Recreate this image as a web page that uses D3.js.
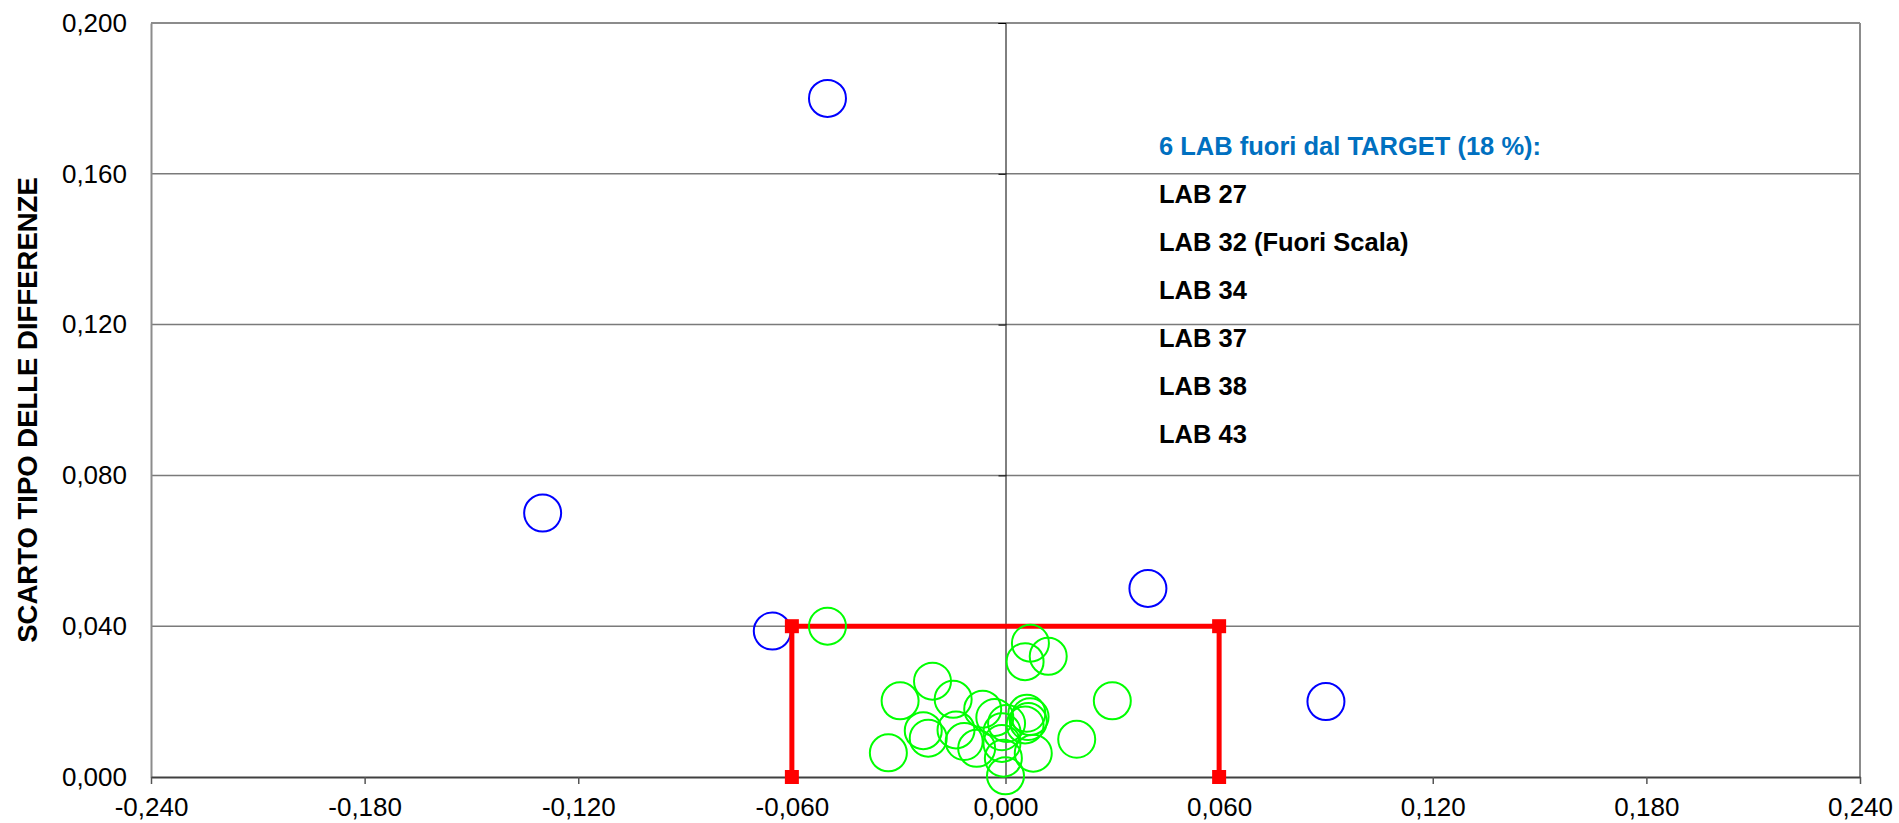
<!DOCTYPE html>
<html>
<head>
<meta charset="utf-8">
<script src="https://cdn.jsdelivr.net/npm/d3@7"></script>
<style>
    body { margin: 0; background: #fff; }
    text { font-family: "Liberation Sans", Arial, sans-serif; }
</style>
</head>
<body>
<div id="chart"></div>
<script>
var svgWidth = 1899;
var svgHeight = 823;
var margin = { top: 23, right: 39, bottom: 46, left: 151 };
var width = svgWidth - margin.left - margin.right;
var height = svgHeight - margin.top - margin.bottom;

// tick values
var xTicks = [-0.24, -0.18, -0.12, -0.06, 0, 0.06, 0.12, 0.18, 0.24];
var yTicks = [0, 0.04, 0.08, 0.12, 0.16, 0.2];

// labs outside the target (blue)
var outX = [-0.050, -0.130, -0.0655, 0.040, 0.090];
var outY = [0.180, 0.070, 0.0387, 0.050, 0.020];

// labs inside the target (green)
var inX = [-0.050, 0.007, 0.0055, 0.012, -0.0205, -0.0296, -0.0147, 0.030, -0.0064,
    -0.003, 0.0003, 0.006, 0.0069, 0.0064, 0.0055, -0.0231, -0.0217, -0.0139, -0.0116,
    -0.0081, -0.0329, 0.020, 0.0078, -0.001, -0.0006, 0.000, -0.001];
var inY = [0.040, 0.0355, 0.0306, 0.032, 0.0254, 0.0202, 0.0206, 0.0202, 0.018,
    0.0158, 0.0142, 0.0169, 0.016, 0.0147, 0.0138, 0.0123, 0.0103, 0.0125, 0.0094,
    0.0076, 0.0064, 0.010, 0.0063, 0.0089, 0.005, 0.0003, 0.012];

// target box
var targetX = [-0.06, -0.06, 0.06, 0.06];
var targetY = [0, 0.04, 0.04, 0];

var noteTitle = "6 LAB fuori dal TARGET (18 %):";
var noteLines = ["LAB 27", "LAB 32 (Fuori Scala)", "LAB 34", "LAB 37", "LAB 38", "LAB 43"];
var yTitle = "SCARTO TIPO DELLE DIFFERENZE";

var itLocale = d3.formatLocale({ decimal: ",", thousands: ".", grouping: [3], currency: ["", "€"], minus: "-" });
var fmt = itLocale.format(".3f");

var svg = d3.select("#chart")
    .append("svg")
    .attr("width", svgWidth)
    .attr("height", svgHeight);

var chartGroup = svg.append("g")
    .attr("transform", `translate(${margin.left}, ${margin.top})`);

var xScale = d3.scaleLinear().domain([-0.24, 0.24]).range([0, width]);
var yScale = d3.scaleLinear().domain([0, 0.2]).range([height, 0]);

// gridlines
chartGroup.selectAll(".grid")
    .data(yTicks.filter(d => d > 0 && d < 0.2))
    .enter()
    .append("line")
    .attr("x1", 0)
    .attr("x2", width)
    .attr("y1", d => yScale(d))
    .attr("y2", d => yScale(d))
    .attr("stroke", "#7a7a7a")
    .attr("stroke-width", 1.5);

// frame top / right
chartGroup.append("line")
    .attr("x1", 0).attr("x2", width)
    .attr("y1", yScale(0.2)).attr("y2", yScale(0.2))
    .attr("stroke", "#8c8c8c").attr("stroke-width", 2);
chartGroup.append("line")
    .attr("x1", width).attr("x2", width)
    .attr("y1", 0).attr("y2", height)
    .attr("stroke", "#8c8c8c").attr("stroke-width", 2);

// left axis (labels only)
var leftAxis = d3.axisLeft(yScale).tickValues(yTicks).tickSize(0).tickPadding(24).tickFormat(fmt);
var gLeft = chartGroup.append("g").call(leftAxis);
gLeft.select(".domain").attr("stroke", "#8c8c8c").attr("stroke-width", 2);
gLeft.selectAll("text").attr("font-size", "26px").attr("fill", "#000")
    .attr("font-family", "'Liberation Sans', Arial, sans-serif");

// vertical zero axis
var zeroAxis = d3.axisLeft(yScale).tickValues(yTicks).tickSize(7).tickFormat("");
var gZero = chartGroup.append("g")
    .attr("transform", `translate(${xScale(0)}, 0)`)
    .call(zeroAxis);
gZero.select(".domain").attr("stroke", "#000").attr("stroke-width", 1);
gZero.selectAll("line").attr("stroke", "#000").attr("stroke-width", 1);

// bottom axis
var bottomAxis = d3.axisBottom(xScale).tickValues(xTicks).tickSize(7).tickSizeOuter(0).tickPadding(14).tickFormat(fmt);
var gBottom = chartGroup.append("g")
    .attr("transform", `translate(0, ${height})`)
    .call(bottomAxis);
gBottom.select(".domain").attr("stroke", "#404040").attr("stroke-width", 2);
gBottom.selectAll(".tick line").attr("stroke", "#555").attr("stroke-width", 1.5);
gBottom.selectAll("text").attr("font-size", "26px").attr("fill", "#000")
    .attr("font-family", "'Liberation Sans', Arial, sans-serif");

// blue circles (outside target)
chartGroup.selectAll(".out")
    .data(outX.map((d, i) => [d, outY[i]]))
    .enter()
    .append("circle")
    .attr("cx", d => xScale(d[0]))
    .attr("cy", d => yScale(d[1]))
    .attr("r", 18.5)
    .attr("fill", "none")
    .attr("stroke", "#0000ff")
    .attr("stroke-width", 2);

// target box
var targetPts = targetX.map((d, i) => [d, targetY[i]]);
var line = d3.line().x(d => xScale(d[0])).y(d => yScale(d[1]));
chartGroup.append("path")
    .datum(targetPts)
    .attr("d", line)
    .attr("fill", "none")
    .attr("stroke", "#ff0000")
    .attr("stroke-width", 5);
chartGroup.selectAll(".tmark")
    .data(targetPts)
    .enter()
    .append("rect")
    .attr("x", d => xScale(d[0]) - 7)
    .attr("y", d => yScale(d[1]) - 7)
    .attr("width", 14)
    .attr("height", 14)
    .attr("fill", "#ff0000");

// green circles (inside target)
chartGroup.selectAll(".in")
    .data(inX.map((d, i) => [d, inY[i]]))
    .enter()
    .append("circle")
    .attr("cx", d => xScale(d[0]))
    .attr("cy", d => yScale(d[1]))
    .attr("r", 18.5)
    .attr("fill", "none")
    .attr("stroke", "#00ff00")
    .attr("stroke-width", 2);

// note
var note = svg.append("g").attr("transform", "translate(1159, 155)");
note.append("text")
    .attr("font-family", "'Open Sans', sans-serif")
    .attr("font-weight", "bold")
    .attr("font-size", "25.5px")
    .attr("fill", "#0070c0")
    .text(noteTitle);
note.selectAll(".lab")
    .data(noteLines)
    .enter()
    .append("text")
    .attr("y", (d, i) => 48 * (i + 1))
    .attr("font-family", "'Open Sans', sans-serif")
    .attr("font-weight", "bold")
    .attr("font-size", "25.5px")
    .attr("fill", "#000")
    .text(d => d);

// y axis title
svg.append("text")
    .attr("transform", "translate(37, 410) rotate(-90)")
    .attr("text-anchor", "middle")
    .attr("font-weight", "bold")
    .attr("font-size", "27.5px")
    .attr("fill", "#000")
    .text(yTitle);
</script>
</body>
</html>
